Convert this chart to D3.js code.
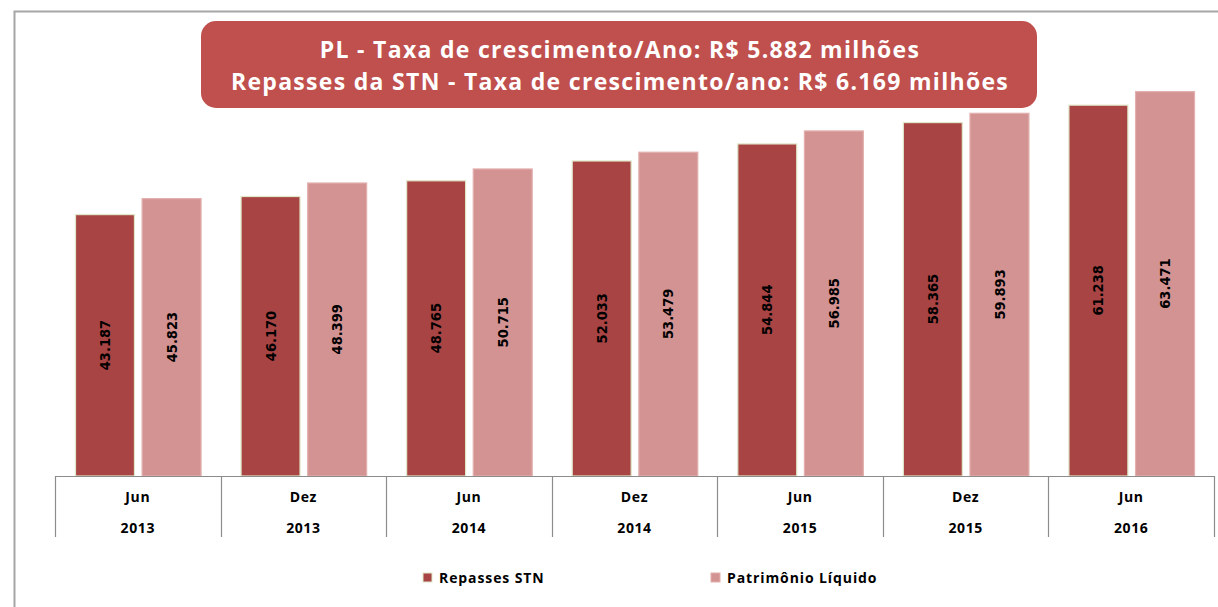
<!DOCTYPE html>
<html>
<head>
<meta charset="utf-8">
<script src="https://cdn.jsdelivr.net/npm/d3@7.9.0/dist/d3.min.js"></script>
<style>
  body { margin: 0; background: #fff; }
  svg { display: block; }
  text { font-family: "Open Sans", sans-serif; }
</style>
</head>
<body>
<div id="chart"></div>
<script>
const periods = ['Jun', 'Dez', 'Jun', 'Dez', 'Jun', 'Dez', 'Jun'];
const years = ['2013', '2013', '2014', '2014', '2015', '2015', '2016'];
const repassesSTN = [43.187, 46.170, 48.765, 52.033, 54.844, 58.365, 61.238];
const patrimonioLiquido = [45.823, 48.399, 50.715, 53.479, 56.985, 59.893, 63.471];
const seriesNames = ['Repasses STN', 'Patrimônio Líquido'];
const titleLines = [
  'PL - Taxa de crescimento/Ano: R$ 5.882 milhões',
  'Repasses da STN - Taxa de crescimento/ano: R$ 6.169 milhões'
];

const width = 1218;
const height = 607;
const margin = { top: 52, right: 4, bottom: 131, left: 55 };

const colors = ['#a84544', '#d39392'];
const strokes = ['#dfe7c8', '#e2b0ae'];

const svg = d3.select('#chart')
  .append('svg')
  .attr('width', width)
  .attr('height', height);

// outer frame
svg.append('rect')
  .attr('x', 14.5).attr('y', 11.5)
  .attr('width', width).attr('height', height)
  .attr('fill', 'none')
  .attr('stroke', '#a6a6a6')
  .attr('stroke-width', 2);

const keys = periods.map((d, i) => i);
const rows = keys.map(i => ({ i, values: [repassesSTN[i], patrimonioLiquido[i]] }));

const x0 = d3.scaleBand()
  .domain(keys)
  .range([margin.left, width - margin.right])
  .padding(0);

const x1 = d3.scaleBand()
  .domain([0, 1])
  .range([20, x0.bandwidth() - 19])
  .paddingInner(0.1);

const baseY = height - margin.bottom;
const y = d3.scaleLinear()
  .domain([0, 70])
  .range([baseY, baseY - 70 * 6.064]);

// bars
const groups = svg.append('g')
  .selectAll('g')
  .data(rows)
  .join('g')
  .attr('transform', d => `translate(${x0(d.i)},0)`);

groups.selectAll('rect')
  .data(d => d.values.map((v, s) => ({ v, s })))
  .join('rect')
  .attr('x', d => x1(d.s) + 0.5)
  .attr('y', d => y(d.v) + 0.5)
  .attr('width', x1.bandwidth() - 1)
  .attr('height', d => baseY - y(d.v) - 0.5)
  .attr('fill', d => colors[d.s])
  .attr('stroke', d => strokes[d.s])
  .attr('stroke-width', 1.2);

// value labels, centered in bar, rotated
groups.selectAll('text.val')
  .data(d => d.values.map((v, s) => ({ v, s })))
  .join('text')
  .attr('class', 'val')
  .attr('transform', d => `translate(${x1(d.s) + x1.bandwidth() / 2},${(y(d.v) + baseY) / 2}) rotate(-90)`)
  .attr('text-anchor', 'middle')
  .attr('dy', '0.35em')
  .style('font-family', '"DejaVu Sans Condensed", "DejaVu Sans", sans-serif')
  .style('font-weight', 'bold')
  .style('font-size', '14.5px')
  .attr('fill', '#000')
  .text(d => d.v.toFixed(3));

// x axis: baseline and category dividers
const axis = svg.append('g').attr('class', 'x-axis');
axis.append('line')
  .attr('x1', x0.range()[0]).attr('x2', x0.range()[1])
  .attr('y1', baseY + 0.5).attr('y2', baseY + 0.5)
  .attr('stroke', '#8c8c8c').attr('stroke-width', 1.2);

const edges = keys.map(k => x0(k)).concat([x0(keys[keys.length - 1]) + x0.bandwidth()]);
axis.selectAll('line.div')
  .data(edges)
  .join('line')
  .attr('class', 'div')
  .attr('x1', d => Math.round(d) + 0.5).attr('x2', d => Math.round(d) + 0.5)
  .attr('y1', baseY).attr('y2', baseY + 61)
  .attr('stroke', '#8c8c8c').attr('stroke-width', 1.2);

axis.selectAll('text.period')
  .data(keys)
  .join('text')
  .attr('class', 'period')
  .attr('x', d => x0(d) + x0.bandwidth() / 2)
  .attr('y', baseY + 26)
  .attr('text-anchor', 'middle')
  .style('font-weight', 'bold')
  .style('font-size', '14px')
  .style('letter-spacing', '0.6px')
  .text(d => periods[d]);

axis.selectAll('text.year')
  .data(keys)
  .join('text')
  .attr('class', 'year')
  .attr('x', d => x0(d) + x0.bandwidth() / 2)
  .attr('y', baseY + 57)
  .attr('text-anchor', 'middle')
  .style('font-weight', 'bold')
  .style('font-size', '14px')
  .style('letter-spacing', '0.6px')
  .text(d => years[d]);

// legend
const legendX = [423, 711];
const legend = svg.append('g')
  .selectAll('g')
  .data(seriesNames)
  .join('g')
  .attr('transform', (d, i) => `translate(${legendX[i]},573)`);

legend.append('rect')
  .attr('width', 9).attr('height', 9)
  .attr('fill', (d, i) => colors[i])
  .attr('stroke', (d, i) => strokes[i]);

legend.append('text')
  .attr('x', 16).attr('y', 10)
  .style('font-weight', 'bold')
  .style('font-size', '14px')
  .style('letter-spacing', '0.9px')
  .text(d => d);

// title box
const tb = svg.append('g');
tb.append('rect')
  .attr('x', 201).attr('y', 21)
  .attr('width', 836).attr('height', 87)
  .attr('rx', 15).attr('ry', 15)
  .attr('fill', '#c0504d');

tb.selectAll('text')
  .data(titleLines)
  .join('text')
  .attr('x', 620)
  .attr('y', (d, i) => 58 + i * 32)
  .attr('text-anchor', 'middle')
  .attr('fill', '#fff')
  .style('font-weight', 'bold')
  .style('font-size', '23px')
  .style('letter-spacing', '1.3px')
  .text(d => d);
</script>
</body>
</html>
